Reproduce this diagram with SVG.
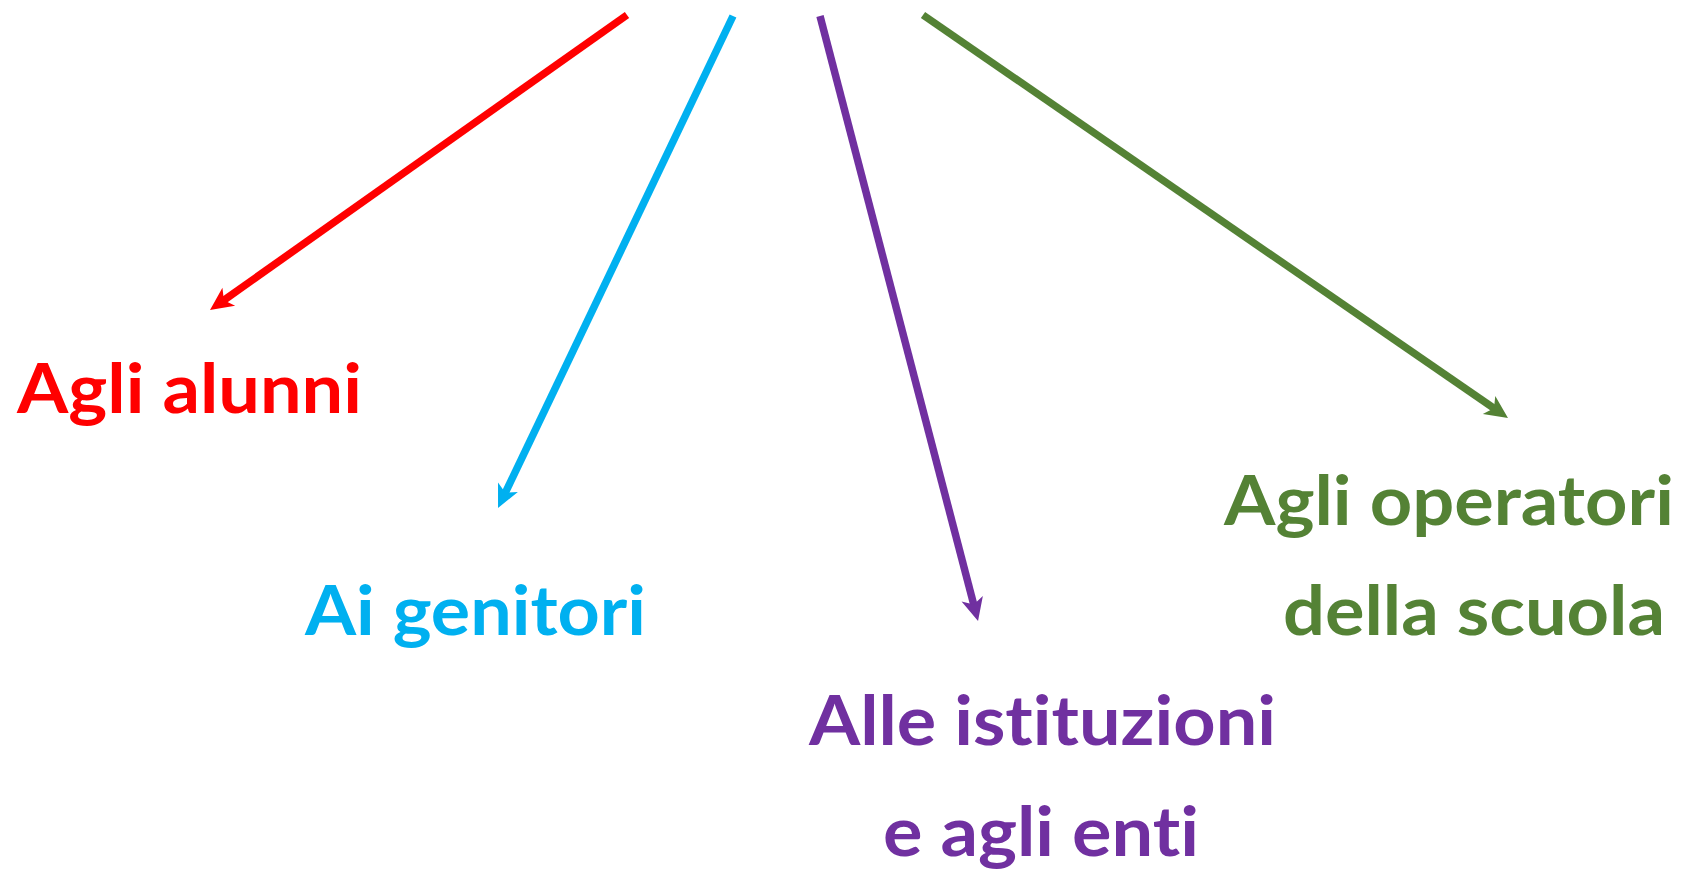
<svg xmlns="http://www.w3.org/2000/svg" width="1686" height="869" viewBox="0 0 1686 869">
<style>
.t{font-family:Lato,"Open Sans","Liberation Sans",sans-serif;font-weight:700;font-size:69px;font-variant-ligatures:none;font-feature-settings:"liga" 0}
.c{fill:none;stroke-width:7.5}
</style>
<defs>
<marker id="mr" markerUnits="userSpaceOnUse" orient="auto" refX="0" refY="0" markerWidth="40" markerHeight="40" overflow="visible"><path d="M12,0 L-11,-11 L-5,0 L-11,11 Z" fill="#FF0000"/></marker>
<marker id="mb" markerUnits="userSpaceOnUse" orient="auto" refX="0" refY="0" markerWidth="40" markerHeight="40" overflow="visible"><path d="M12,0 L-11,-11 L-5,0 L-11,11 Z" fill="#00B0F0"/></marker>
<marker id="mp" markerUnits="userSpaceOnUse" orient="auto" refX="0" refY="0" markerWidth="40" markerHeight="40" overflow="visible"><path d="M12,0 L-11,-11 L-5,0 L-11,11 Z" fill="#7030A0"/></marker>
<marker id="mg" markerUnits="userSpaceOnUse" orient="auto" refX="0" refY="0" markerWidth="40" markerHeight="40" overflow="visible"><path d="M12,0 L-11,-11 L-5,0 L-11,11 Z" fill="#548235"/></marker>
</defs>
<rect width="1686" height="869" fill="#FFFFFF"/>
<g id="connectors">
<line class="c" x1="627" y1="15" x2="219.8" y2="303.1" stroke="#FF0000" marker-end="url(#mr)"/>
<line class="c" x1="733" y1="16" x2="503.2" y2="497.2" stroke="#00B0F0" stroke-width="6.5" marker-end="url(#mb)"/>
<line class="c" x1="820" y1="16" x2="975.0" y2="609.4" stroke="#7030A0" marker-end="url(#mp)"/>
<line class="c" x1="923" y1="15" x2="1498.1" y2="411.2" stroke="#548235" marker-end="url(#mg)"/>
</g>
<g id="node-alunni">
<text class="t" x="17" y="413" fill="#FF0000" textLength="345" lengthAdjust="spacingAndGlyphs">Agli alunni</text>
</g>
<g id="node-genitori">
<text class="t" x="305" y="635" fill="#00B0F0" textLength="341" lengthAdjust="spacingAndGlyphs">Ai genitori</text>
</g>
<g id="node-istituzioni">
<text class="t" x="809" y="745" fill="#7030A0" textLength="467" lengthAdjust="spacingAndGlyphs">Alle istituzioni</text>
<text class="t" x="883" y="856" fill="#7030A0" textLength="316" lengthAdjust="spacingAndGlyphs">e agli enti</text>
</g>
<g id="node-operatori">
<text class="t" x="1224" y="525" fill="#548235" textLength="450" lengthAdjust="spacingAndGlyphs">Agli operatori</text>
<text class="t" x="1283" y="635" fill="#548235" textLength="382" lengthAdjust="spacingAndGlyphs">della scuola</text>
</g>
</svg>
